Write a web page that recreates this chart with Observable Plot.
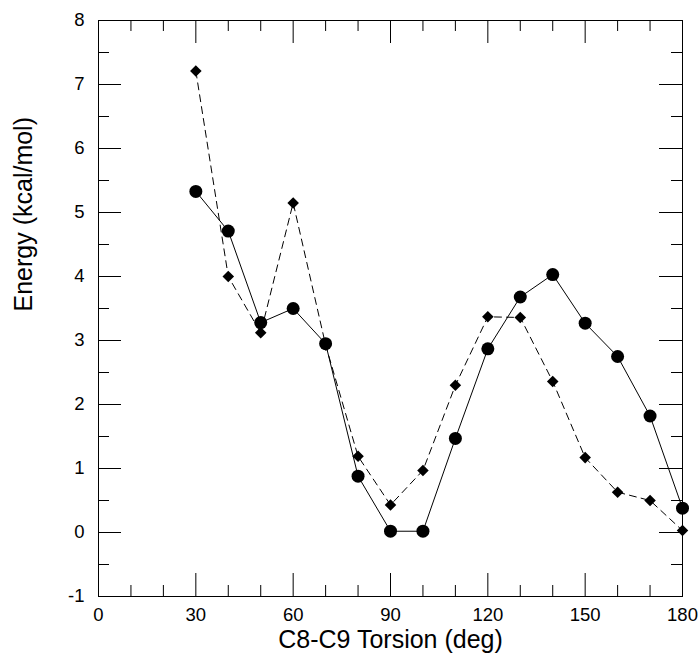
<!DOCTYPE html>
<html><head><meta charset="utf-8">
<script src="https://cdn.jsdelivr.net/npm/d3@7"></script>
<script src="https://cdn.jsdelivr.net/npm/@observablehq/plot@0.6"></script>
<style>body{margin:0;background:#fff;}</style>
</head><body><div id="chart"></div>
<script>
const torsion = [30, 40, 50, 60, 70, 80, 90, 100, 110, 120, 130, 140, 150, 160, 170, 180];
const energyCircle = [5.33, 4.71, 3.28, 3.50, 2.95, 0.88, 0.02, 0.02, 1.47, 2.87, 3.68, 4.03, 3.27, 2.75, 1.82, 0.38];
const energyDiamond = [7.21, 4.00, 3.12, 5.15, 2.93, 1.19, 0.43, 0.97, 2.30, 3.37, 3.36, 2.36, 1.17, 0.63, 0.50, 0.03];
const xMajorTicks = [0, 30, 60, 90, 120, 150, 180];
const xMinorTicks = [10, 20, 40, 50, 70, 80, 100, 110, 130, 140, 160, 170];
const yMajorTicks = [-1, 0, 1, 2, 3, 4, 5, 6, 7, 8];
const yMinorTicks = [-0.5, 0.5, 1.5, 2.5, 3.5, 4.5, 5.5, 6.5, 7.5];
const xLabel = "C8-C9 Torsion (deg)";
const yLabel = "Energy (kcal/mol)";

const circles = torsion.map((t, i) => ({t, e: energyCircle[i]}));
const diamonds = torsion.map((t, i) => ({t, e: energyDiamond[i]}));

const W = 699, H = 658, mL = 98, mR = 17, mT = 20, mB = 62;
const plotW = W - mL - mR, plotH = H - mT - mB;
const major = 23, minor = 11;

const chart = Plot.plot({
  width: W, height: H,
  marginLeft: mL, marginRight: mR, marginTop: mT, marginBottom: mB,
  style: {fontFamily: "'Liberation Sans', Arial, sans-serif", background: "#fff", color: "#000"},
  x: {domain: [0, 180]},
  y: {domain: [-1, 8]},
  marks: [
    Plot.frame({stroke: "#000", strokeWidth: 1}),
    Plot.tickX(xMajorTicks, {x: d => d, insetTop: plotH - major, stroke: "#000"}),
    Plot.tickX(xMajorTicks, {x: d => d, insetBottom: plotH - major, stroke: "#000"}),
    Plot.tickX(xMinorTicks, {x: d => d, insetTop: plotH - minor, stroke: "#000"}),
    Plot.tickX(xMinorTicks, {x: d => d, insetBottom: plotH - minor, stroke: "#000"}),
    Plot.tickY(yMajorTicks, {y: d => d, insetRight: plotW - major, stroke: "#000"}),
    Plot.tickY(yMajorTicks, {y: d => d, insetLeft: plotW - major, stroke: "#000"}),
    Plot.tickY(yMinorTicks, {y: d => d, insetRight: plotW - minor, stroke: "#000"}),
    Plot.tickY(yMinorTicks, {y: d => d, insetLeft: plotW - minor, stroke: "#000"}),
    Plot.axisX({ticks: xMajorTicks, tickSize: 0, tickPadding: 11.5, fontSize: 18.5, label: null, tickFormat: d => String(d)}),
    Plot.axisY({ticks: yMajorTicks, tickSize: 0, tickPadding: 14, fontSize: 18.5, label: null, tickFormat: d => String(d)}),
    Plot.line(diamonds, {x: "t", y: "e", stroke: "#000", strokeWidth: 1, strokeDasharray: "7,5"}),
    Plot.line(circles, {x: "t", y: "e", stroke: "#000", strokeWidth: 1}),
    Plot.dot(diamonds, {x: "t", y: "e", symbol: "diamond2", r: 5.2, fill: "#000", stroke: "none"}),
    Plot.dot(circles, {x: "t", y: "e", r: 6.5, fill: "#000", stroke: "none"}),
    Plot.text([xLabel], {text: d => d, frameAnchor: "bottom", dy: 51, fontSize: 25, fill: "#000"}),
    Plot.text([yLabel], {text: d => d, frameAnchor: "left", dx: -75, dy: 3, rotate: -90, fontSize: 25, fill: "#000"})
  ]
});
document.getElementById("chart").append(chart);
</script>
</body></html>
